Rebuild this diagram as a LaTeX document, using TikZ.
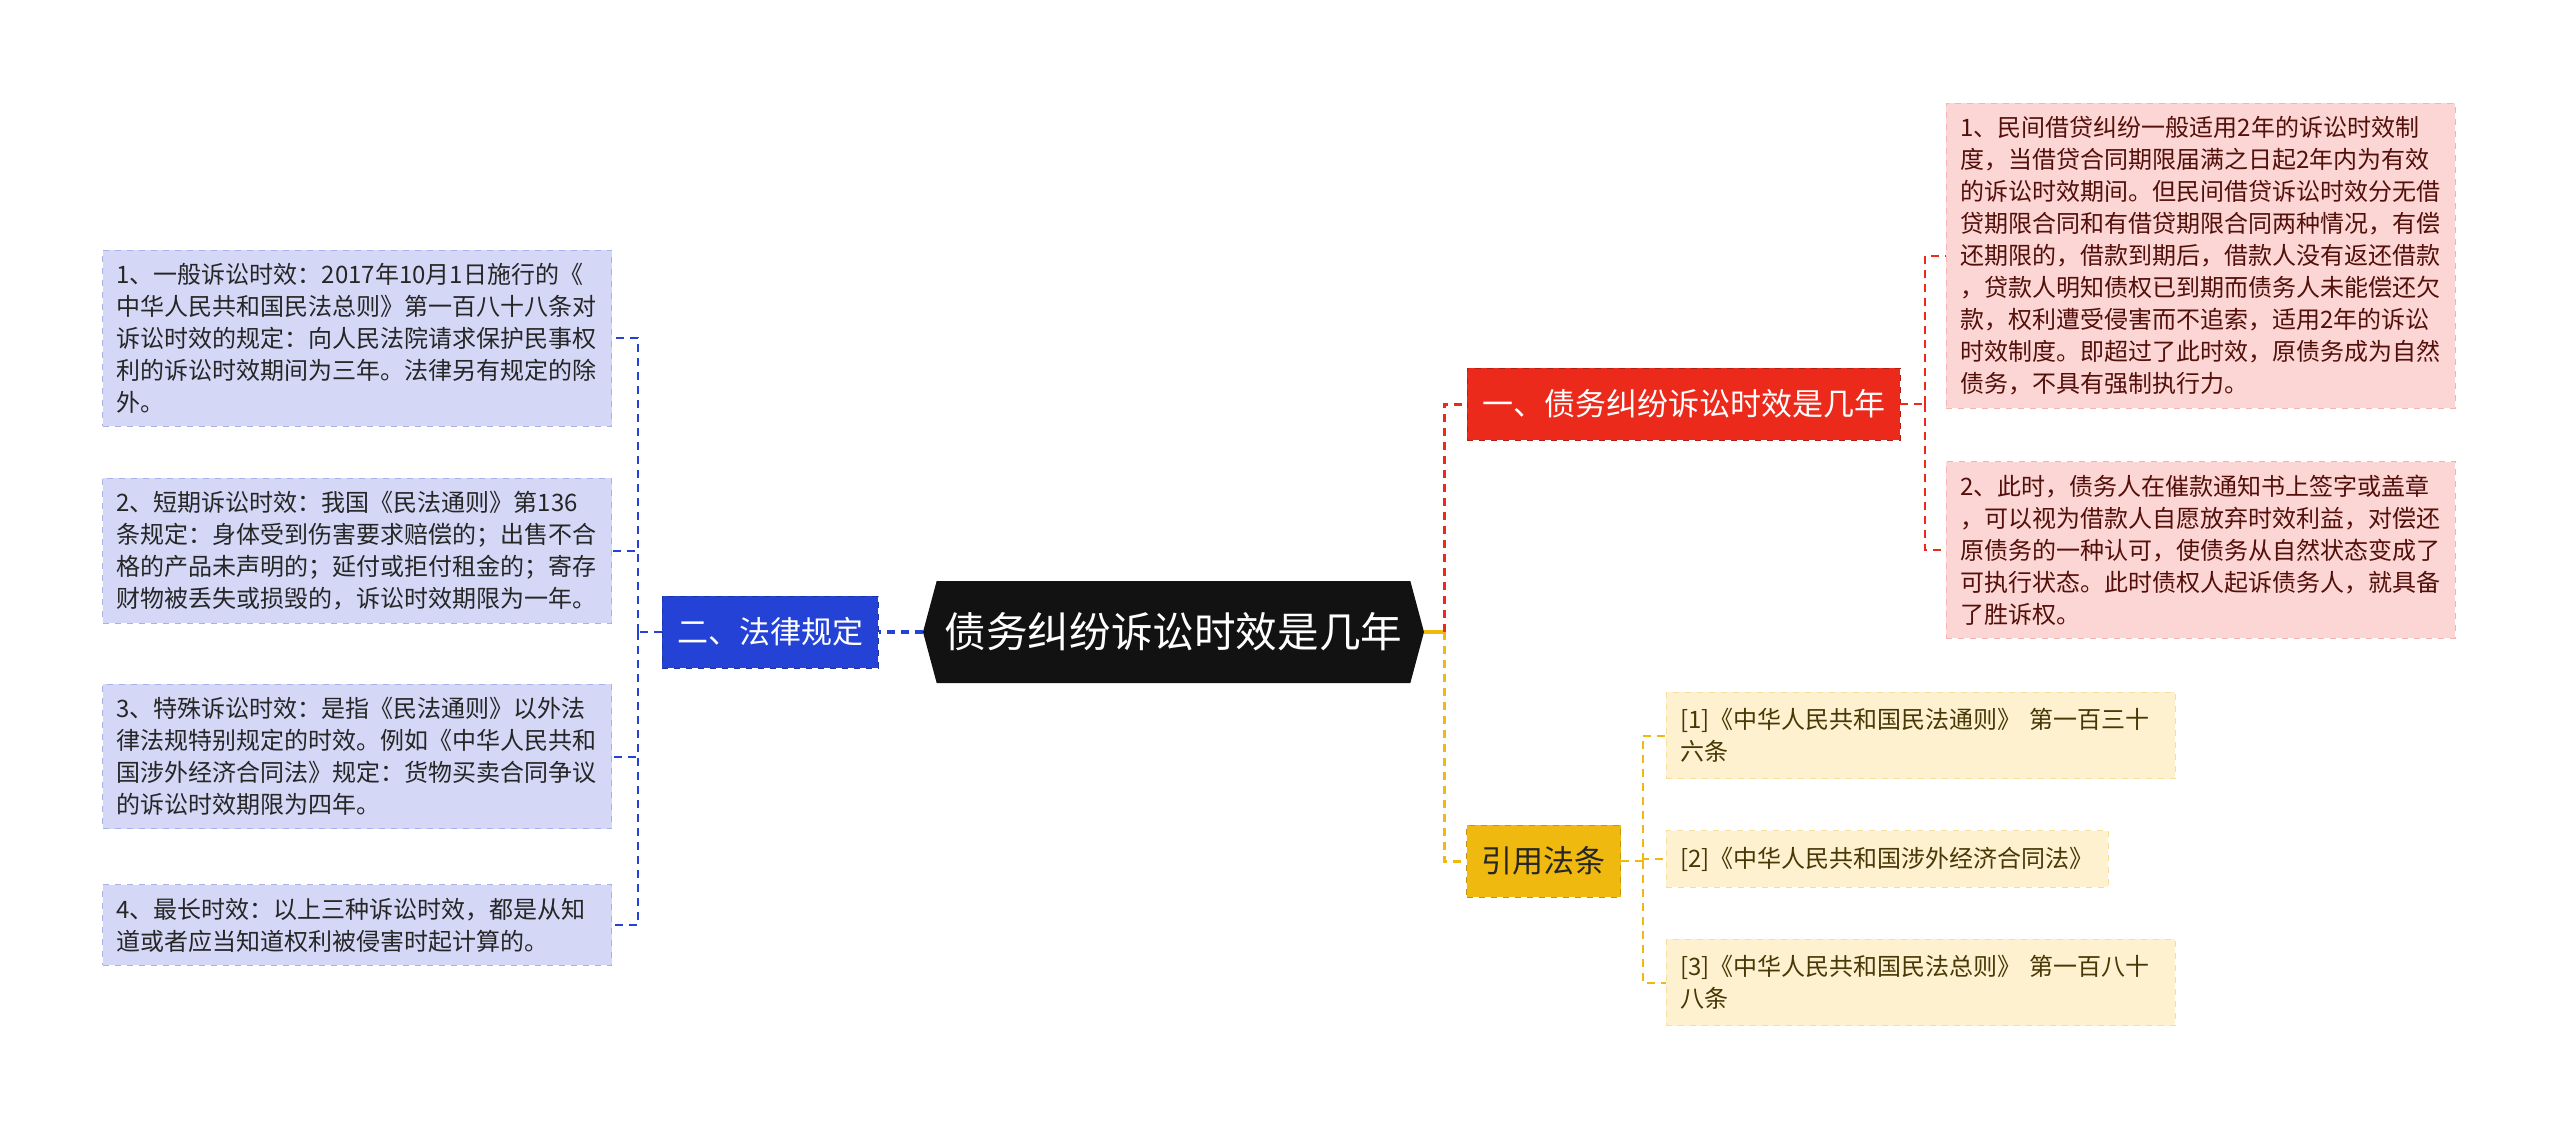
\documentclass[tikz,border=0pt]{standalone}
\usepackage{fontspec}
\setmainfont{Noto Sans CJK SC}
\usetikzlibrary{positioning, shapes.symbols}
\definecolor{mainBlack}{HTML}{121212}
\definecolor{lawBlue}{HTML}{2443D6}
\definecolor{lawBlueFill}{HTML}{D4D8F6}
\definecolor{lawBlueLine}{HTML}{A9B1EA}
\definecolor{debtRed}{HTML}{EC2A1C}
\definecolor{debtRedFill}{HTML}{FBD6D4}
\definecolor{debtRedLine}{HTML}{F3B3B0}
\definecolor{citeYellow}{HTML}{F0B90F}
\definecolor{citeYellowFill}{HTML}{FDF1D0}
\definecolor{citeYellowLine}{HTML}{F6DE9E}

\begin{document}
\begin{tikzpicture}[x=0.5pt, y=-0.5pt,
    mainbox/.style={signal, signal to=west and east, signal pointer angle=150,
                    fill=mainBlack, text=white, minimum width=250.5pt,
                    minimum height=51pt, inner sep=0pt,
                    font=\fontsize{20.8}{24}\selectfont},
    branchbox/.style={rectangle, draw, dashed, minimum height=36pt,
                      inner xsep=7.5pt, inner ysep=0pt,
                      font=\fontsize{15.5}{18}\selectfont},
    leafbox/.style={rectangle, draw, dashed, align=left, text width=240.5pt,
                    inner xsep=7pt, inner ysep=6.5pt,
                    font=\fontsize{12}{16}\selectfont},
    link/.style={dash pattern=on 4pt off 3pt, line width=1pt},
  ]
    \useasboundingbox (0,0) rectangle (2560,1129);

    % centre and branches
    \node[mainbox] (main) at (1173.5,632) {债务纠纷诉讼时效是几年};
    \node[branchbox, fill=lawBlue, draw=lawBlue!75!black, text=white,
          left=22pt of main] (rules) {二、法律规定};
    \node[branchbox, fill=debtRed, draw=debtRed!75!black, text=white]
      (debt) at (1683.5,404) {一、债务纠纷诉讼时效是几年};
    \node[branchbox, fill=citeYellow, draw=citeYellow!80!black,
          text=black!85] (cite) at (1543.5,861) {引用法条};

    % left leaves
    \node[leafbox, fill=lawBlueFill, draw=lawBlueLine, text=black!85,
          anchor=east] (l1) at (612,338)
      {1、一般诉讼时效：2017年10月1日施行的《\\
       中华人民共和国民法总则》第一百八十八条对\\
       诉讼时效的规定：向人民法院请求保护民事权\\
       利的诉讼时效期间为三年。法律另有规定的除\\
       外。};
    \node[leafbox, fill=lawBlueFill, draw=lawBlueLine, text=black!85,
          anchor=east] (l2) at (612,550.5)
      {2、短期诉讼时效：我国《民法通则》第136\\
       条规定：身体受到伤害要求赔偿的；出售不合\\
       格的产品未声明的；延付或拒付租金的；寄存\\
       财物被丢失或损毁的，诉讼时效期限为一年。};
    \node[leafbox, fill=lawBlueFill, draw=lawBlueLine, text=black!85,
          anchor=east] (l3) at (612,756.5)
      {3、特殊诉讼时效：是指《民法通则》以外法\\
       律法规特别规定的时效。例如《中华人民共和\\
       国涉外经济合同法》规定：货物买卖合同争议\\
       的诉讼时效期限为四年。};
    \node[leafbox, fill=lawBlueFill, draw=lawBlueLine, text=black!85,
          anchor=east] (l4) at (612,925)
      {4、最长时效：以上三种诉讼时效，都是从知\\
       道或者应当知道权利被侵害时起计算的。};

    % right leaves
    \node[leafbox, fill=debtRedFill, draw=debtRedLine, text=debtRed!35!black,
          anchor=west] (p1) at (1946,255.5)
      {1、民间借贷纠纷一般适用2年的诉讼时效制\\
       度，当借贷合同期限届满之日起2年内为有效\\
       的诉讼时效期间。但民间借贷诉讼时效分无借\\
       贷期限合同和有借贷期限合同两种情况，有偿\\
       还期限的，借款到期后，借款人没有返还借款\\
       ，贷款人明知债权已到期而债务人未能偿还欠\\
       款，权利遭受侵害而不追索，适用2年的诉讼\\
       时效制度。即超过了此时效，原债务成为自然\\
       债务，不具有强制执行力。};
    \node[leafbox, fill=debtRedFill, draw=debtRedLine, text=debtRed!35!black,
          anchor=west] (p2) at (1946,550)
      {2、此时，债务人在催款通知书上签字或盖章\\
       ，可以视为借款人自愿放弃时效利益，对偿还\\
       原债务的一种认可，使债务从自然状态变成了\\
       可执行状态。此时债权人起诉债务人，就具备\\
       了胜诉权。};

    % cited laws
    \node[leafbox, fill=citeYellowFill, draw=citeYellowLine,
          text=citeYellow!30!black, anchor=west, inner ysep=8pt] (c1) at (1666,735.5)
      {[1]《中华人民共和国民法通则》 第一百三十\\六条};
    \node[leafbox, fill=citeYellowFill, draw=citeYellowLine,
          text=citeYellow!30!black, anchor=west, inner ysep=8pt,
          text width=207pt] (c2) at (1666,859)
      {[2]《中华人民共和国涉外经济合同法》};
    \node[leafbox, fill=citeYellowFill, draw=citeYellowLine,
          text=citeYellow!30!black, anchor=west, inner ysep=8pt] (c3) at (1666,982.5)
      {[3]《中华人民共和国民法总则》 第一百八十\\八条};

    % connectors
    \coordinate[left=12pt of rules.west] (ljoin);
    \coordinate[right=10pt of main.east] (rjoin);
    \coordinate[right=12.5pt of debt.east] (djoin);
    \coordinate[right=11pt of cite.east] (cjoin);

    \draw[link, lawBlue, line width=2pt] (main.west) -- (rules.east);
    \draw[link, lawBlue] (rules.west) -- (ljoin);
    \foreach \n in {l1,l2,l3,l4}
      \draw[link, lawBlue] (ljoin) |- (\n.east);

    \draw[citeYellow, line width=2pt] (main.east) -- (rjoin);
    \draw[link, debtRed, line width=1.5pt] (rjoin) |- (debt.west);
    \draw[link, citeYellow, line width=1.5pt] (rjoin) |- (cite.west);

    \draw[link, debtRed] (debt.east) -- (djoin);
    \foreach \n in {p1,p2}
      \draw[link, debtRed] (djoin) |- (\n.west);

    \draw[link, citeYellow] (cite.east) -- (cjoin);
    \foreach \n in {c1,c2,c3}
      \draw[link, citeYellow] (cjoin) |- (\n.west);
\end{tikzpicture}
\end{document}
